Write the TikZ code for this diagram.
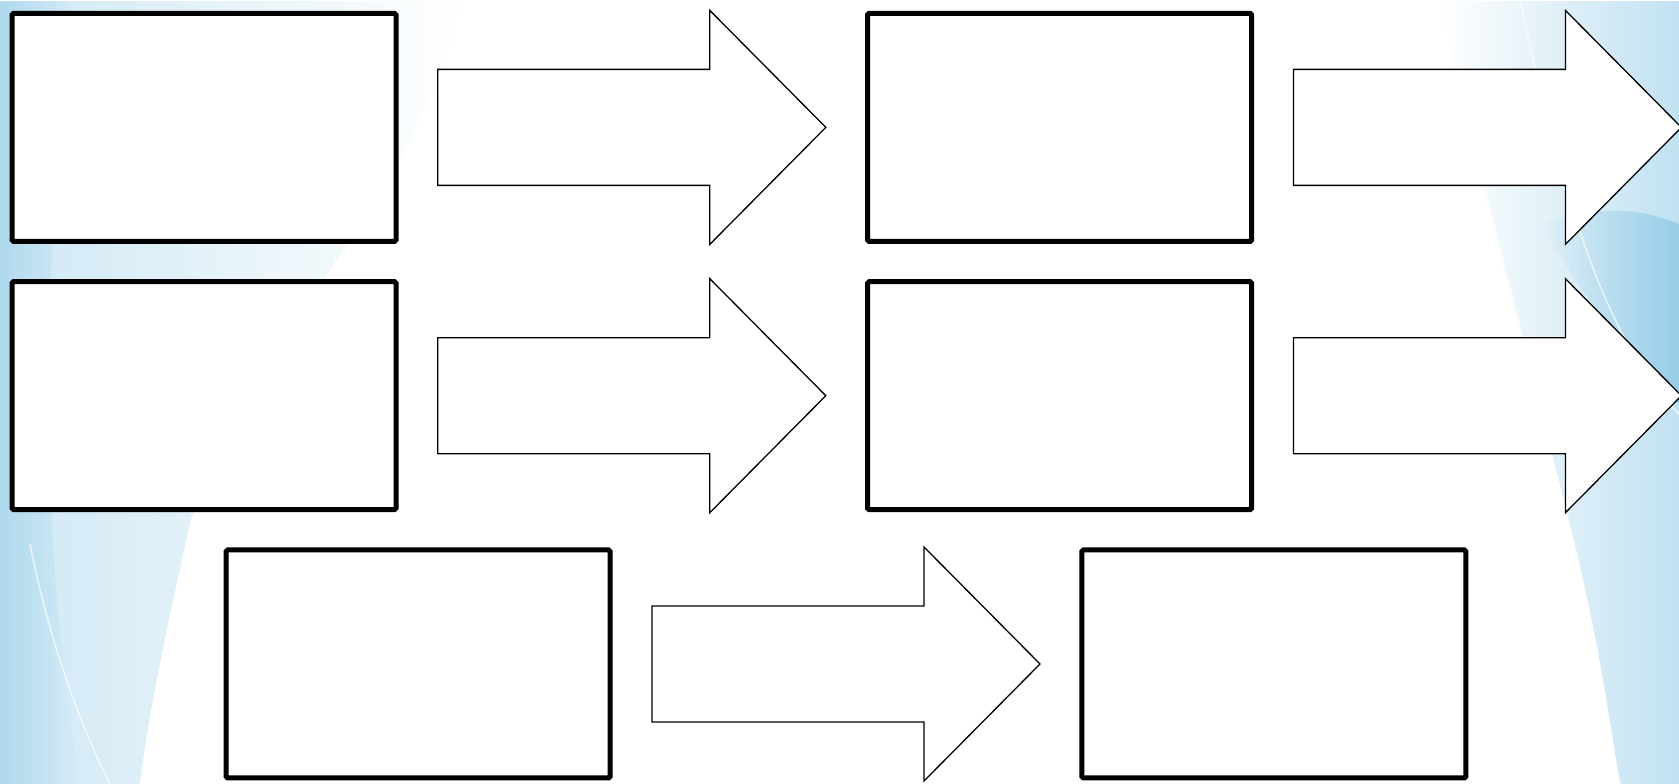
\documentclass[tikz,border=0pt]{standalone}
\usetikzlibrary{positioning,calc,fadings}

\definecolor{skyblue}{RGB}{118,190,226}
\definecolor{paleblue}{RGB}{206,232,246}

\tikzset{
  stagebox/.style={draw=black, line width=5pt, fill=white, rounded corners=1.5pt,
    inner sep=0pt, outer sep=0pt, minimum width=384pt, minimum height=228pt},
  blockarrow/.style={draw=black, line width=1.3pt, fill=white, line join=miter},
  streak/.style={draw=white, line width=1.4pt, opacity=0.7},
  bigarrow/.pic={
    \draw[blockarrow] (-194,-58) -- (78,-58) -- (78,-117) -- (194,0)
      -- (78,117) -- (78,58) -- (-194,58) -- cycle;
  }
}

\begin{document}
\begin{tikzpicture}[x=1pt, y=1pt]
        \useasboundingbox (0,0) rectangle (1679,784);
        \clip (0,0) rectangle (1679,784);

        % Background
        \fill[white] (0,0) rectangle (1679,784);
        \fill[skyblue, opacity=0.35, path fading=east]
          (0,784) -- (460,784) .. controls (430,600) and (230,420) .. (190,260)
          .. controls (170,170) and (150,80) .. (140,0) -- (0,0) -- cycle;
        \fill[skyblue, opacity=0.35, path fading=east]
          (0,784) -- (70,784) .. controls (50,560) and (30,300) .. (80,0) -- (0,0) -- cycle;
        \draw[streak] (30,240) .. controls (50,140) and (80,60) .. (110,0);
        \fill[skyblue, opacity=0.45, path fading=west]
          (1440,784) .. controls (1480,600) and (1530,420) .. (1570,260)
          .. controls (1600,140) and (1610,60) .. (1620,0) -- (1679,0) -- (1679,784) -- cycle;
        \fill[skyblue, opacity=0.55, path fading=west]
          (1540,560) .. controls (1590,480) and (1630,420) .. (1679,380)
          -- (1679,560) .. controls (1630,580) and (1590,575) .. (1540,560) -- cycle;
        \draw[streak] (1430,784) .. controls (1500,560) and (1560,300) .. (1620,0);
        \draw[streak] (1520,784) .. controls (1560,600) and (1600,450) .. (1679,370);

        % Stage boxes
        \node[stagebox] (a) at (204,656.6) {};
        \node[stagebox, right=471.6pt of a] (b) {};
        \node[stagebox, below=40.3pt of a] (c) {};
        \node[stagebox, right=471.6pt of c] (d) {};
        \node[stagebox, below=40.3pt of c, xshift=214.2pt] (e) {};
        \node[stagebox, right=471.6pt of e] (f) {};

        % Block arrows
        \pic at ($(a.east)!0.5!(b.west)$) {bigarrow};
        \pic at ($(b.east)+(235.8,0)$) {bigarrow};
        \pic at ($(c.east)!0.5!(d.west)$) {bigarrow};
        \pic at ($(d.east)+(235.8,0)$) {bigarrow};
        \pic at ($(e.east)!0.5!(f.west)$) {bigarrow};
\end{tikzpicture}
\end{document}
